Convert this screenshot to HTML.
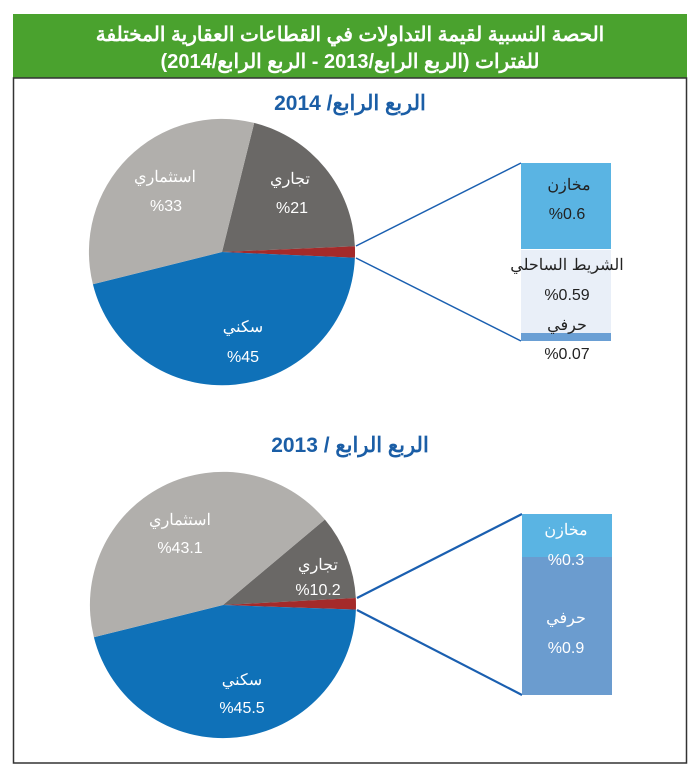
<!DOCTYPE html>
<html><head><meta charset="utf-8"><style>
body{margin:0;background:#fff;}
svg{display:block;}
text{font-family:"Liberation Sans","Noto Sans CJK SC",sans-serif;}
</style></head><body>
<svg width="700" height="770" viewBox="0 0 700 770">
<rect x="0" y="0" width="700" height="770" fill="#fff"/>
<rect x="13" y="14" width="674" height="64" fill="#4aa22e"/>
<rect x="13.5" y="78" width="673" height="685" fill="none" stroke="#333" stroke-width="1.5"/>
<text x="350" y="41" text-anchor="middle" fill="#fff" font-size="20" font-weight="bold" direction="rtl">الحصة النسبية لقيمة التداولات في القطاعات العقارية المختلفة</text>
<text x="350" y="68" text-anchor="middle" fill="#fff" font-size="20" font-weight="bold" direction="rtl">للفترات (الربع الرابع/2013 - الربع الرابع/2014)</text>
<text x="350" y="110" text-anchor="middle" fill="#1b5ea6" font-size="21" font-weight="bold" font-family="Liberation Serif,serif" direction="rtl">الربع الرابع/ 2014</text>
<text x="350" y="452" text-anchor="middle" fill="#1b5ea6" font-size="21" font-weight="bold" font-family="Liberation Serif,serif" direction="rtl">الربع الرابع / 2013</text>

<!-- pie 2014 -->
<path d="M222,252 L254.2,122.9 A133,133 0 0 1 354.9,246.2 Z" fill="#6a6866"/>
<path d="M222,252 L354.9,246.2 A133,133 0 0 1 354.9,257.8 Z" fill="#a42a2a"/>
<path d="M222,252 L354.9,257.8 A133,133 0 0 1 92.9,284.2 Z" fill="#0f71b8"/>
<path d="M222,252 L92.9,284.2 A133,133 0 0 1 254.2,122.9 Z" fill="#b1afac"/>
<line x1="356" y1="246" x2="521" y2="163" stroke="#1a5fb0" stroke-width="1.5"/>
<line x1="356" y1="258" x2="521" y2="341" stroke="#1a5fb0" stroke-width="1.5"/>
<rect x="521" y="163" width="90" height="86" fill="#5ab4e3"/>
<rect x="521" y="250" width="90" height="83" fill="#e9eff8"/>
<rect x="521" y="333" width="90" height="8" fill="#6a9fd4"/>
<g font-size="16" text-anchor="middle" fill="#222" direction="rtl">
<text x="569" y="190">مخازن</text><text x="567" y="219">%0.6</text>
<text x="567" y="270">الشريط الساحلي</text><text x="567" y="300">%0.59</text>
<text x="567" y="330">حرفي</text><text x="567" y="359">%0.07</text>
</g>

<!-- pie 2013 -->
<path d="M223,605 L324.9,519.5 A133,133 0 0 1 355.8,598.0 Z" fill="#6a6866"/>
<path d="M223,605 L355.8,598.0 A133,133 0 0 1 355.9,609.6 Z" fill="#a42a2a"/>
<path d="M223,605 L355.9,609.6 A133,133 0 0 1 93.9,637.2 Z" fill="#0f71b8"/>
<path d="M223,605 L93.9,637.2 A133,133 0 0 1 324.9,519.5 Z" fill="#b1afac"/>
<line x1="357" y1="598" x2="522" y2="514" stroke="#1a5fb0" stroke-width="2.2"/>
<line x1="357" y1="610" x2="522" y2="695" stroke="#1a5fb0" stroke-width="2.2"/>
<rect x="522" y="514" width="90" height="43" fill="#5ab4e3"/>
<rect x="522" y="557" width="90" height="138" fill="#6b9ccf"/>
<g font-size="16" text-anchor="middle" fill="#fff" direction="rtl">
<text x="165" y="182">استثماري</text><text x="166" y="211">%33</text>
<text x="290" y="184">تجاري</text><text x="292" y="213">%21</text>
<text x="243" y="332">سكني</text><text x="243" y="362">%45</text>
<text x="566" y="535">مخازن</text><text x="566" y="565">%0.3</text>
<text x="566" y="623">حرفي</text><text x="566" y="653">%0.9</text>
<text x="180" y="525">استثماري</text><text x="180" y="553">%43.1</text>
<text x="318" y="570">تجاري</text><text x="318" y="595">%10.2</text>
<text x="242" y="685">سكني</text><text x="242" y="713">%45.5</text>
</g>
</svg>
</body></html>
